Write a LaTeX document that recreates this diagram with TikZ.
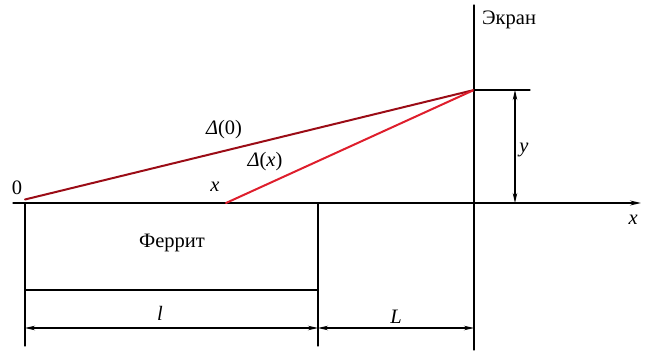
\documentclass[tikz,border=0pt]{standalone}
\usepackage{fontspec}
\setmainfont{Liberation Serif}
\usetikzlibrary{arrows.meta}

\begin{document}
\begin{tikzpicture}[x=1pt,y=-1pt,line cap=round,line join=round,
  every node/.style={font=\fontsize{20.5}{24}\selectfont,inner sep=1pt},
  dimarrow/.style={line width=1.1pt,{Stealth[length=10pt,width=4.5pt]}-{Stealth[length=10pt,width=4.5pt]}}]
  \useasboundingbox (0,0) rectangle (646,352);
  % опорные точки
  \coordinate (O) at (25,203);
  \coordinate (X) at (226,203);
  \coordinate (S) at (474,90);
  \coordinate (Sb) at (474,203);
  \coordinate (R) at (318,203);
  % ось x и экран
  \draw[line width=1.3pt,-{Stealth[length=11pt,width=5pt]}] (13,203) -- (641,203);
  \node[anchor=north east] (xaxis) at (639,214) {\itshape x};
  \draw[line width=1.3pt] (474,5) -- (474,350);
  \node[anchor=west] (screen) at (481,20) {Экран};
  % феррит
  \draw[line width=2.2pt] (O) rectangle (318,290);
  \node (ferrit) at (172,243) {Феррит};
  \node (zero) at (17,188) {0};
  \node (xpt) at (215,187) {\itshape x};
  % лучи
  \draw[line width=2pt,color={rgb,255:red,155;green,12;blue,22}] (25,199.5) -- (S);
  \draw[line width=2pt,color={rgb,255:red,222;green,30;blue,44}] (X) -- (S);
  \node (d0) at (224,130) {{\itshape Δ}(0)};
  \node (dx) at (265,162) {{\itshape Δ}({\itshape x})};
  % размер y
  \draw[line width=1.3pt] (S) -- (530,90);
  \draw[dimarrow] (515,90) -- (515,203);
  \node (ylab) at (524,150) {\itshape y};
  % размеры l и L
  \draw[line width=1.1pt] (25,290) -- (25,346);
  \draw[line width=1.1pt] (318,290) -- (318,346);
  \draw[dimarrow] (25,328) -- (318,328);
  \draw[dimarrow] (318,328) -- (474,328);
  \node (llab) at (160,313) {\itshape l};
  \node (Llab) at (396,317) {\itshape L};
\end{tikzpicture}
\end{document}
